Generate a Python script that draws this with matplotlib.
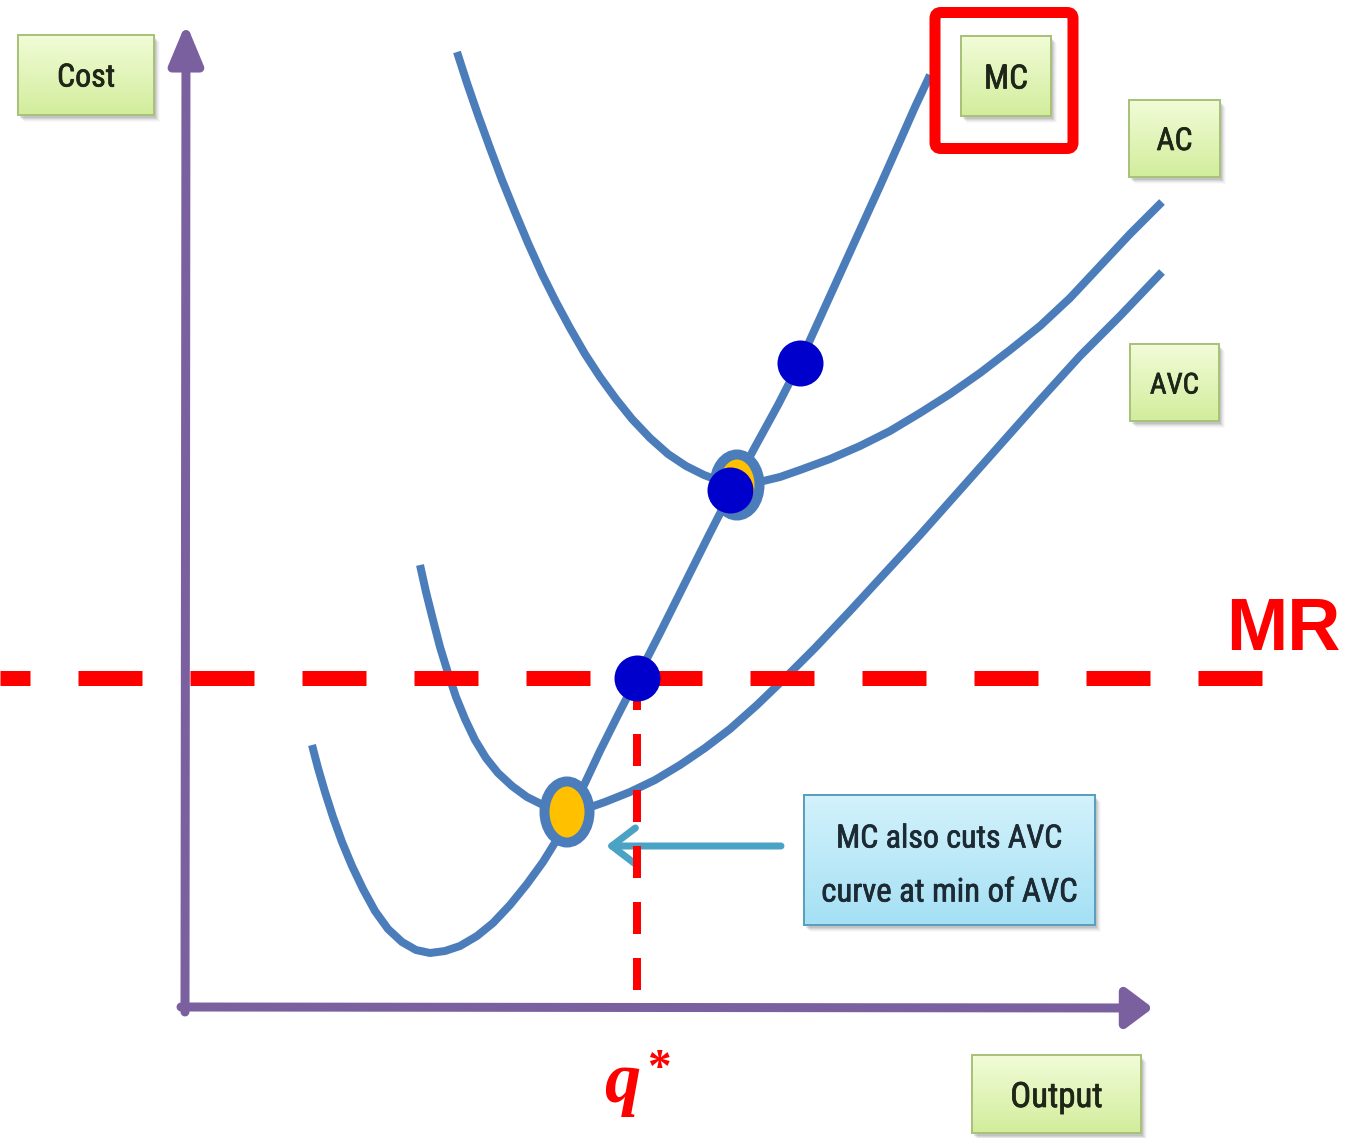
import numpy as np
import matplotlib
matplotlib.use("Agg")
import matplotlib.pyplot as plt
import matplotlib.patheffects as pe
from matplotlib.patches import FancyBboxPatch, Ellipse, FancyArrowPatch, Rectangle
from matplotlib.colors import to_rgb
from matplotlib import font_manager as fm

# ---------------- cost curves (output, cost) ----------------
mc_q = [127, 133, 140, 148, 157, 167, 178, 190, 203, 217, 231, 245, 260,
        275, 292, 308, 325, 342, 358, 371, 383, 400, 415, 433, 452, 475,
        500, 525, 548, 570, 593, 615, 635, 655, 675, 695, 715, 730, 745]
mc_c = [262, 239, 215, 190, 165, 141, 118, 96, 78, 65, 57, 54, 56,
        61, 71, 84, 102, 123, 145, 166, 189, 224, 256, 292, 329, 374,
        424, 474, 519, 560, 602, 645, 689, 733, 777, 821, 866, 900, 932]

ac_q = [272, 282, 293, 305, 317, 330, 343, 357, 371, 385, 400, 415, 431,
        447, 465, 483, 501, 519, 535, 552, 570, 595, 615, 645, 675, 705,
        735, 765, 795, 825, 855, 885, 915, 945, 977]
ac_c = [955, 924, 892, 859, 827, 795, 764, 733, 705, 679, 653, 630, 608,
        588, 569, 553, 541, 532, 526, 523, 524, 530, 537, 548, 561, 576,
        594, 613, 634, 657, 681, 709, 741, 773, 805]

avc_q = [235, 241, 248, 255, 263, 271, 280, 290, 301, 313, 327, 342, 358,
         373, 383, 400, 420, 445, 470, 495, 520, 545, 572, 600, 630, 665,
         700, 735, 775, 815, 855, 895, 935, 977]
avc_c = [442, 415, 387, 360, 334, 310, 288, 267, 249, 234, 221, 210, 202,
         197, 195, 198, 205, 215, 227, 242, 259, 278, 302, 329, 359, 396,
         434, 472, 517, 562, 607, 651, 691, 735]

# marginal revenue level and profit-maximising quantity
mr_level = 329
q_star = 452

# highlighted intersections
dot_q = [615, 545, q_star]
dot_c = [644, 517, mr_level]
min_q = [382, 552]        # minimum of AVC and of AC
min_c = [195, 522]

# labels
curve_labels = ["MC", "AC", "AVC"]
axis_labels = ["Cost", "Output"]
note_lines = ["MC also cuts AVC", "curve at min of AVC"]

# ---------------- styling ----------------
PX = 0.72                       # points per pixel at 100 dpi
CURVE = "#4c7dbb"
AXIS = "#7a609f"
RED = "#ff0000"
DOT = "#0000cc"
GOLD = "#ffc000"
TXT = "#1f2618"

plt.rcParams["lines.scale_dashes"] = False


def condensed_font():
    names = {f.name for f in fm.fontManager.ttflist}
    for name in ["Liberation Sans Narrow", "Roboto Condensed", "Open Sans Condensed",
                 "Noto Sans Condensed", "DejaVu Sans Condensed"]:
        if name in names:
            return fm.FontProperties(family=name)
    skip = ("bold", "italic", "oblique", "light", "thin", "black", "medium",
            "semi", "extra", "serif", "mono", "cjk")
    for f in fm.fontManager.ttflist:
        fn = f.fname.lower().rsplit("/", 1)[-1]
        if ("condensed" in fn or "narrow" in fn) and not any(s in fn for s in skip):
            return fm.FontProperties(fname=f.fname)
    return fm.FontProperties(family="DejaVu Sans")


BOX_FONT = condensed_font()

fig = plt.figure(figsize=(13.45, 11.38), dpi=100)
ax = fig.add_axes([0, 0, 1, 1])
ax.set_xlim(-185, 1160)
ax.set_ylim(-131, 1007)
ax.axis("off")
renderer = fig.canvas.get_renderer()


def fitted_text(x, y, s, width_px, max_size, color):
    # size the label so that it spans the wanted width inside its box
    t = ax.text(x, y, s, fontproperties=BOX_FONT.copy(), fontsize=20, color=color,
                ha="center", va="center_baseline", zorder=7,
                path_effects=[pe.withStroke(linewidth=0.5, foreground=color)])
    w = t.get_window_extent(renderer).width
    t.set_fontsize(min(max_size, 20 * width_px / w))
    return t


def gradient_box(x0, y0, w, h, top, bottom, edge, z=5):
    # soft drop shadow toward the lower right
    for k, a in enumerate([0.13, 0.10, 0.07, 0.05, 0.03]):
        ax.add_patch(Rectangle((x0 + 2 + k, y0 - 3 - k), w, h, fc="#505050",
                               ec="none", alpha=a, zorder=z - 1))
    t = np.linspace(0, 1, 64)[:, None, None]
    img = np.array(to_rgb(bottom)) * (1 - t) + np.array(to_rgb(top)) * t
    ax.imshow(img, extent=(x0, x0 + w, y0, y0 + h), origin="lower",
              aspect="auto", interpolation="bilinear", zorder=z)
    ax.add_patch(Rectangle((x0, y0), w, h, fc="none", ec=edge,
                           lw=2 * PX, zorder=z + 0.5))


def green_label(x0, y0, w, h, text, text_w):
    gradient_box(x0, y0, w, h, "#f2fcd8", "#d2ed9c", "#a9c27a")
    fitted_text(x0 + w / 2, y0 + h / 2, text, text_w, 32, TXT)


# axes with arrow heads
ax.add_patch(FancyArrowPatch((0, -5), (1, 984),
                             arrowstyle="-|>,head_length=24,head_width=10",
                             mutation_scale=1, lw=9 * PX, color=AXIS,
                             shrinkA=0, shrinkB=0, zorder=2))
ax.add_patch(FancyArrowPatch((-4, 0), (968, -1),
                             arrowstyle="-|>,head_length=16,head_width=12",
                             mutation_scale=1, lw=9 * PX, color=AXIS,
                             shrinkA=0, shrinkB=0, zorder=2))

# cost curves
for q, c in [(mc_q, mc_c), (ac_q, ac_c), (avc_q, avc_c)]:
    ax.plot(q, c, color=CURVE, lw=8 * PX, solid_capstyle="butt",
            solid_joinstyle="round", zorder=3)

# minimum points of AVC and AC
for q, c in zip(min_q, min_c):
    ax.add_patch(Ellipse((q, c), 45, 61, fc=GOLD, ec=CURVE, lw=10 * PX, zorder=4))

# callout arrow pointing at the AVC minimum
ax.add_patch(FancyArrowPatch((596, 161), (421, 161),
                             arrowstyle="->,head_length=17,head_width=13",
                             mutation_scale=1, lw=7 * PX, color="#4aa3c4",
                             shrinkA=0, shrinkB=0, zorder=4))

# MR line and q* drop line
ax.plot([-185, 1077], [mr_level, mr_level], color=RED, lw=15 * PX,
        linestyle=(34 * PX, (64 * PX, 48 * PX)), dash_capstyle="butt", zorder=5)
ax.plot([q_star, q_star], [mr_level, 17], color=RED, lw=8 * PX,
        linestyle=(0, (32 * PX, 24 * PX)), dash_capstyle="butt", zorder=5)

# highlighted intersections
ax.scatter(dot_q, dot_c, s=(46 * PX) ** 2, color=DOT, linewidths=0, zorder=8)

# labels
green_label(-167, 892, 136, 80, axis_labels[0], 58)
green_label(776, 891, 90, 80, curve_labels[0], 44)
green_label(944, 830, 91, 77, curve_labels[1], 36)
green_label(945, 586, 89, 77, curve_labels[2], 49)
green_label(787, -126, 169, 78, axis_labels[1], 92)

gradient_box(619, 82, 291, 130, "#d3f2fc", "#a5e0f4", "#5b9fbf")
fitted_text(764.5, 171, note_lines[0], 226, 32, "#1c2a33")
fitted_text(764.5, 118, note_lines[1], 256, 32, "#1c2a33")

# emphasis frame around the MC label
ax.add_patch(FancyBboxPatch((750, 858.5), 138, 136,
                            boxstyle="round,pad=0,rounding_size=6",
                            fill=False, ec=RED, lw=11 * PX, zorder=6))

ax.text(1098, 357, "MR", family="Liberation Sans", weight="bold", fontsize=53,
        color=RED, ha="center", va="baseline", zorder=6)
ax.text(437, -95, "q", family="Liberation Serif", weight="bold", style="italic",
        fontsize=52, color=RED, ha="center", va="baseline", zorder=6)
ax.text(474, -74, "*", family="Liberation Serif", weight="bold",
        fontsize=34, color=RED, ha="center", va="baseline", zorder=6)

fig.savefig("out.png", dpi=100, facecolor="white")
